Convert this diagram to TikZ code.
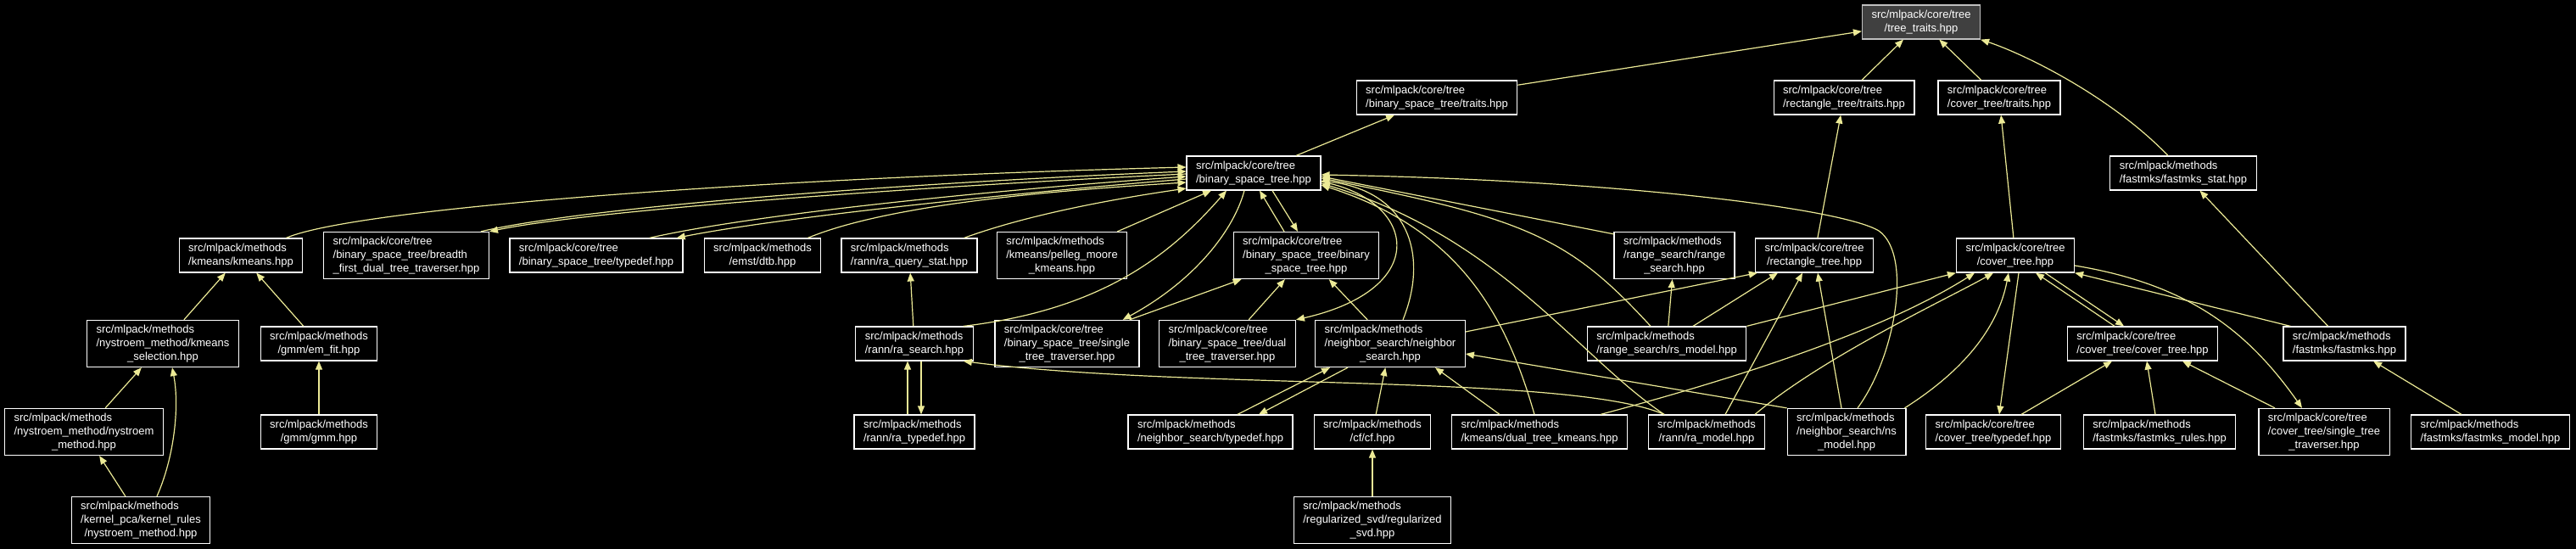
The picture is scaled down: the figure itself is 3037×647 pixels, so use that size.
\documentclass[tikz,border=0pt]{standalone}
\usepackage{fontspec}
\setmainfont{Liberation Sans}
\usetikzlibrary{arrows.meta}
\definecolor{edgeyellow}{RGB}{236,234,150}
\definecolor{rootgray}{RGB}{64,64,64}
\definecolor{rootline}{RGB}{191,191,191}

\begin{document}
\begin{tikzpicture}[
    x=1pt, y=-1pt,
    file/.style={
        draw=white,
        fill=black,
        text=white,
        align=left,
        line width=1.2pt,
        inner xsep=11pt,
        inner ysep=5.5pt,
        minimum height=40pt,
        font=\fontsize{13}{16}\selectfont
    },
    root/.style={
        file,
        draw=rootline,
        fill=rootgray
    },
    arrow/.style={
        -{Triangle[length=10pt,width=8pt]},
        line width=1.2pt,
        draw=edgeyellow
    }
]

\useasboundingbox [fill=black] (0,0) rectangle (3037,647);

% Nodes
\node (traits) [root] at (2265,26) {src/mlpack/core/tree\\\hfill /tree\_traits.hpp\hfill\null};
\node (bsttraits) [file] at (1694,115) {src/mlpack/core/tree\\/binary\_space\_tree/traits.hpp};
\node (recttraits) [file] at (2174,115) {src/mlpack/core/tree\\/rectangle\_tree/traits.hpp};
\node (covertraits) [file] at (2357,115) {src/mlpack/core/tree\\/cover\_tree/traits.hpp};

\node (bst) [file] at (1478,204) {src/mlpack/core/tree\\/binary\_space\_tree.hpp};
\node (fastmksstat) [file] at (2574,204) {src/mlpack/methods\\/fastmks/fastmks\_stat.hpp};

\node (kmeans) [file] at (284,301) {src/mlpack/methods\\/kmeans/kmeans.hpp};
\node (breadth) [file] at (479,301) {src/mlpack/core/tree\\/binary\_space\_tree/breadth\\\hfill \_first\_dual\_tree\_traverser.hpp\hfill\null};
\node (bsttypedef) [file] at (703,301) {src/mlpack/core/tree\\/binary\_space\_tree/typedef.hpp};
\node (dtb) [file] at (899,301) {src/mlpack/methods\\\hfill /emst/dtb.hpp\hfill\null};
\node (raquerystat) [file] at (1072,301) {src/mlpack/methods\\/rann/ra\_query\_stat.hpp};
\node (pelleg) [file] at (1252,301) {src/mlpack/methods\\/kmeans/pelleg\_moore\\\hfill \_kmeans.hpp\hfill\null};
\node (bstbst) [file] at (1540,301) {src/mlpack/core/tree\\/binary\_space\_tree/binary\\\hfill \_space\_tree.hpp\hfill\null};
\node (rangesearch) [file] at (1974,301) {src/mlpack/methods\\/range\_search/range\\\hfill \_search.hpp\hfill\null};
\node (recttree) [file] at (2139,301) {src/mlpack/core/tree\\\hfill /rectangle\_tree.hpp\hfill\null};
\node (covertree) [file] at (2376,301) {src/mlpack/core/tree\\\hfill /cover\_tree.hpp\hfill\null};

\node (kmeanssel) [file] at (192,405) {src/mlpack/methods\\/nystroem\_method/kmeans\\\hfill \_selection.hpp\hfill\null};
\node (emfit) [file] at (376,405) {src/mlpack/methods\\\hfill /gmm/em\_fit.hpp\hfill\null};
\node (rasearch) [file] at (1078,405) {src/mlpack/methods\\/rann/ra\_search.hpp};
\node (bstsingle) [file] at (1258,405) {src/mlpack/core/tree\\/binary\_space\_tree/single\\\hfill \_tree\_traverser.hpp\hfill\null};
\node (bstdual) [file] at (1447,405) {src/mlpack/core/tree\\/binary\_space\_tree/dual\\\hfill \_tree\_traverser.hpp\hfill\null};
\node (nsearch) [file] at (1639,405) {src/mlpack/methods\\/neighbor\_search/neighbor\\\hfill \_search.hpp\hfill\null};
\node (rsmodel) [file] at (1965,405) {src/mlpack/methods\\/range\_search/rs\_model.hpp};
\node (ctct) [file] at (2526,405) {src/mlpack/core/tree\\/cover\_tree/cover\_tree.hpp};
\node (fastmks) [file] at (2764,405) {src/mlpack/methods\\/fastmks/fastmks.hpp};

\node (nystroem) [file] at (99,509) {src/mlpack/methods\\/nystroem\_method/nystroem\\\hfill \_method.hpp\hfill\null};
\node (gmm) [file] at (376,509) {src/mlpack/methods\\\hfill /gmm/gmm.hpp\hfill\null};
\node (ratypedef) [file] at (1078,509) {src/mlpack/methods\\/rann/ra\_typedef.hpp};
\node (nstypedef) [file] at (1427,509) {src/mlpack/methods\\/neighbor\_search/typedef.hpp};
\node (cf) [file] at (1618,509) {src/mlpack/methods\\\hfill /cf/cf.hpp\hfill\null};
\node (dtk) [file] at (1815,509) {src/mlpack/methods\\/kmeans/dual\_tree\_kmeans.hpp};
\node (ramodel) [file] at (2012,509) {src/mlpack/methods\\\hfill /rann/ra\_model.hpp\hfill\null};
\node (nsmodel) [file] at (2177,509) {src/mlpack/methods\\/neighbor\_search/ns\\\hfill \_model.hpp\hfill\null};
\node (cttypedef) [file] at (2350,509) {src/mlpack/core/tree\\/cover\_tree/typedef.hpp};
\node (fastmksrules) [file] at (2546,509) {src/mlpack/methods\\/fastmks/fastmks\_rules.hpp};
\node (ctsingle) [file] at (2740,509) {src/mlpack/core/tree\\/cover\_tree/single\_tree\\\hfill \_traverser.hpp\hfill\null};
\node (fastmksmodel) [file] at (2936,509) {src/mlpack/methods\\/fastmks/fastmks\_model.hpp};

\node (kernelrules) [file] at (166,613) {src/mlpack/methods\\/kernel\_pca/kernel\_rules\\\hfill /nystroem\_method.hpp\hfill\null};
\node (regsvd) [file] at (1618,613) {src/mlpack/methods\\/regularized\_svd/regularized\\\hfill \_svd.hpp\hfill\null};

% Paths to the traits
\draw [arrow] (bsttraits) -- (traits);
\draw [arrow] (recttraits) -- (traits);
\draw [arrow] (covertraits) -- (traits);
\draw [arrow] ([xshift=-18pt]fastmksstat.north) .. controls (2490,115) and (2390,65) .. (traits.south east);
\draw [arrow] (bst) -- (bsttraits);
\draw [arrow] (recttree) -- (recttraits);
\draw [arrow] (covertree) -- (covertraits);
\draw [arrow] (fastmks) -- (fastmksstat);

% Paths to binary_space_tree.hpp
\draw [arrow] ([xshift=-20pt]kmeans.north east) .. controls (420,245) and (900,210) .. ([yshift=7pt]bst.west);
\draw [arrow] ([xshift=-10pt]breadth.north east) .. controls (700,242) and (1100,214) .. ([yshift=2pt]bst.west);
\draw [arrow] ([yshift=-1pt]bst.west) .. controls (1100,219) and (700,247) .. (breadth.north east);
\draw [arrow] ([xshift=-40pt]bsttypedef.north east) .. controls (900,250) and (1200,222) .. ([yshift=-4pt]bst.west);
\draw [arrow] ([yshift=-7pt]bst.west) .. controls (1200,227) and (920,256) .. ([xshift=-8pt]bsttypedef.north east);
\draw [arrow] ([xshift=-16pt]dtb.north east) .. controls (1050,240) and (1250,224) .. ([yshift=-11pt]bst.west);
\draw [arrow] ([xshift=-16pt]raquerystat.north east) .. controls (1220,250) and (1330,232) .. ([yshift=-18pt]bst.west);
\draw [arrow] ([xshift=-12pt]pelleg.north east) -- ([xshift=-50pt]bst.south);
\draw [arrow] ([xshift=-12pt]rasearch.north east) .. controls (1300,365) and (1380,300) .. ([xshift=-32pt]bst.south);
\draw [arrow] ([xshift=-26pt]bstbst.north) -- ([xshift=7pt]bst.south);
\draw [arrow] ([xshift=22pt]bst.south) -- ([xshift=-10pt]bstbst.north);
\draw [arrow] ([xshift=-11pt]bst.south) .. controls (1455,270) and (1410,330) .. ([xshift=-20pt]bstsingle.north east);
\draw [arrow] ([xshift=-12pt]bstsingle.north east) -- ([xshift=10pt]bstbst.south west);
\draw [arrow] ([yshift=-10pt]bst.east) .. controls (1670,235) and (1690,340) .. (bstdual.north east);
\draw [arrow] (bstdual) -- (bstbst);
\draw [arrow] (nsearch) -- (bstbst);
\draw [arrow] ([xshift=15pt]nsearch.north) .. controls (1685,300) and (1660,225) .. ([yshift=-9pt]bst.east);
\draw [arrow] ([yshift=-3pt]rangesearch.north west) -- ([yshift=-4pt]bst.east);
\draw [arrow] ([xshift=-19pt]rsmodel.north) .. controls (1850,280) and (1800,258) .. ([yshift=-6pt]bst.east);
\draw [arrow] ([xshift=-6pt]dtk.north) .. controls (1775,370) and (1720,270) .. ([yshift=-14pt]bst.east);
\draw [arrow] ([xshift=-50pt]ramodel.north) .. controls (1860,420) and (1770,280) .. ([yshift=-12pt]bst.east);
\draw [arrow] ([xshift=13pt]nsmodel.north) .. controls (2235,420) and (2255,300) .. (2215,272) .. controls (2170,245) and (1900,212) .. ([yshift=-2pt]bst.east);

% Paths to the rectangle and cover trees
\draw [arrow] ([yshift=14pt]nsearch.east) -- ([xshift=3pt]recttree.south west);
\draw [arrow] (rsmodel) -- (rangesearch);
\draw [arrow] ([xshift=31pt]rsmodel.north) -- ([xshift=-43pt]recttree.south);
\draw [arrow] (rsmodel.north east) -- (covertree.south west);
\draw [arrow] ([xshift=22pt]ramodel.north) -- ([xshift=-14pt]recttree.south);
\draw [arrow] ([xshift=57pt]ramodel.north) .. controls (2150,420) and (2300,350) .. ([xshift=-26pt]covertree.south);
\draw [arrow] ([xshift=-6pt]nsmodel.north) -- ([xshift=4pt]recttree.south);
\draw [arrow] ([xshift=-2pt]nsmodel.north east) .. controls (2310,440) and (2355,390) .. ([xshift=-8pt]covertree.south);
\draw [arrow] ([xshift=72pt]dtk.north) .. controls (2050,445) and (2220,390) .. ([xshift=-48pt]covertree.south);
\draw [arrow] ([xshift=9pt]fastmks.north west) -- (covertree.south east);
\draw [arrow] ([xshift=-33pt]ctct.north) -- ([xshift=24pt]covertree.south);
\draw [arrow] ([xshift=35pt]covertree.south) -- ([xshift=-22pt]ctct.north);
\draw [arrow] ([xshift=4pt]covertree.south) -- ([xshift=7pt]cttypedef.north);
\draw [arrow] ([yshift=-12pt]covertree.east) .. controls (2580,335) and (2650,390) .. ([xshift=-26pt]ctsingle.north);
\draw [arrow] ([xshift=33pt]cttypedef.north) -- ([xshift=-36pt]ctct.south);
\draw [arrow] ([xshift=-5pt]fastmksrules.north) -- ([xshift=5pt]ctct.south);
\draw [arrow] ([xshift=-58pt]ctsingle.north) -- ([xshift=47pt]ctct.south);
\draw [arrow] (fastmksmodel) -- (fastmks);

% Paths to neighbor_search.hpp and ra_search.hpp
\draw [arrow] (nsmodel.north west) -- ([yshift=-12pt]nsearch.east);
\draw [arrow] ([xshift=-47pt]dtk.north) -- ([xshift=53pt]nsearch.south);
\draw [arrow] (cf) -- (nsearch);
\draw [arrow] ([xshift=32pt]nstypedef.north) -- ([xshift=-71pt]nsearch.south);
\draw [arrow] ([xshift=-50pt]nsearch.south) -- ([xshift=57pt]nstypedef.north);
\draw [arrow] (regsvd) -- (cf);
\draw [arrow] ([xshift=-50pt]ramodel.north) .. controls (1850,440) and (1400,460) .. ([xshift=-12pt]rasearch.south east);
\draw [arrow] ([xshift=-8pt]ratypedef.north) -- ([xshift=-8pt]rasearch.south);
\draw [arrow] ([xshift=8pt]rasearch.south) -- ([xshift=8pt]ratypedef.north);
\draw [arrow] (rasearch) -- (raquerystat);

% Paths to kmeans.hpp
\draw [arrow] (kmeanssel) -- (kmeans);
\draw [arrow] (emfit) -- (kmeans);
\draw [arrow] (nystroem) -- (kmeanssel);
\draw [arrow] (kernelrules) -- (nystroem);
\draw [arrow] ([xshift=19pt]kernelrules.north) .. controls (205,540) and (212,480) .. ([xshift=11pt]kmeanssel.south);
\draw [arrow] (gmm) -- (emfit);

\end{tikzpicture}
\end{document}
